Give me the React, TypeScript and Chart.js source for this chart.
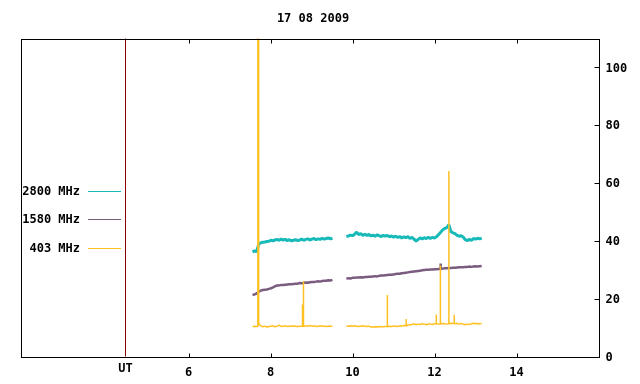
import React, { useEffect, useRef } from "react";
import { Chart, registerables } from "chart.js";

Chart.register(...registerables);

const TITLE = "17 08 2009";
const X_MIN = 1.9;
const X_MAX = 16;
const Y_MIN = 0;
const Y_MAX = 110;
const xTicks = [6, 8, 10, 12, 14];
const yTicks = [0, 20, 40, 60, 80, 100];
const utPosition = 4.46;
const utLabel = "UT";
const seriesLabels = ["2800 MHz", "1580 MHz", "403 MHz"];
const seriesColors = ["#17b9b9", "#7a5c7f", "#ffc020"];
const utColor = "#8b0000";

const STEP = 0.05;
const seg1Start = 7.56;
const seg2Start = 9.85;

const cyan1 = [
  36.2, 36.5, 36.3, 38.8, 39.3, 39.5, 39.6, 39.8, 39.9, 40.2,
  40.0, 40.3, 40.5, 40.2, 40.6, 40.3, 40.5, 40.1, 40.4, 40.0,
  40.2, 40.4, 40.1, 40.3, 40.6, 40.2, 40.5, 40.7, 40.3, 40.6,
  40.8, 40.4, 40.7, 40.5, 40.9, 40.6, 40.8, 41.0, 40.7, 40.9,
];
const cyan2 = [
  41.5, 41.7, 42.0, 41.8, 42.3, 43.0, 42.2, 42.5, 41.9, 42.3,
  41.9, 42.2, 41.7, 42.0, 41.6, 42.1, 41.8, 41.5, 41.9, 41.6,
  41.9, 41.4, 41.7, 41.3, 41.6, 41.2, 41.5, 41.0, 41.4, 41.1,
  41.5, 40.8, 41.2, 40.6, 39.9, 40.5, 41.0, 40.7, 41.1, 40.8,
  41.2, 40.9, 41.2, 41.0, 41.4, 42.2, 43.0, 43.8, 44.3, 44.6,
  45.6, 43.2, 42.8, 42.5, 41.9, 41.6, 41.8, 41.3, 40.4, 40.1,
  40.5, 40.2, 40.8, 40.6, 40.9, 40.7, 40.9,
];
const purple1 = [
  21.2, 21.5, 21.8, 22.4, 22.8, 23.0, 23.1, 23.2, 23.4, 23.6,
  23.9, 24.3, 24.6, 24.6, 24.7, 24.7, 24.8, 24.9, 25.0, 25.0,
  25.1, 25.2, 25.2, 25.4, 25.3, 25.5, 25.6, 25.5, 25.7, 25.8,
  25.8, 25.9, 26.0, 25.9, 26.1, 26.2, 26.2, 26.4, 26.3, 26.5,
];
const purple2 = [
  26.9, 27.1, 27.0, 27.2, 27.2, 27.3, 27.3, 27.4, 27.3, 27.5,
  27.5, 27.6, 27.6, 27.7, 27.8, 27.7, 27.9, 28.0, 28.0, 28.1,
  28.2, 28.3, 28.3, 28.4, 28.5, 28.6, 28.6, 28.8, 28.9, 29.0,
  29.1, 29.2, 29.3, 29.4, 29.5, 29.6, 29.7, 29.8, 29.9, 30.0,
  30.0, 30.1, 30.1, 30.2, 30.2, 30.3, 30.3, 30.4, 30.5, 30.5,
  30.6, 30.6, 30.7, 30.7, 30.8, 30.9, 30.9, 30.9, 31.0, 31.0,
  31.1, 31.0, 31.1, 31.2, 31.1, 31.2, 31.3,
];
const purpleSpikeTimes = [12.15];
const purpleSpikeValues = [32.2];
const yellow1 = [
  10.4, 10.5, 10.4, 11.5, 10.6, 10.3, 10.5, 10.2, 10.4, 10.5,
  10.6, 10.3, 10.5, 10.8, 10.4, 10.5, 10.6, 10.4, 10.5, 10.5,
  10.6, 10.5, 10.4, 10.5, 10.5, 10.4, 10.6, 10.5, 10.7, 10.5,
  10.6, 10.4, 10.5, 10.6, 10.5, 10.5, 10.4, 10.5, 10.5, 10.5,
];
const yellow2 = [
  10.5, 10.5, 10.6, 10.5, 10.6, 10.5, 10.4, 10.5, 10.6, 10.5,
  10.4, 10.5, 10.2, 10.2, 10.3, 10.2, 10.4, 10.3, 10.3, 10.4,
  10.4, 10.5, 10.4, 10.5, 10.5, 10.4, 10.6, 10.5, 10.7, 10.6,
  10.9, 11.0, 11.1, 11.3, 11.0, 11.2, 11.1, 11.3, 11.2, 11.0,
  11.3, 11.2, 11.1, 11.3, 11.3, 11.2, 11.3, 11.4, 11.3, 11.2,
  11.3, 11.5, 11.4, 11.3, 11.5, 11.2, 11.4, 11.2, 11.0, 11.2,
  11.1, 11.3, 11.5, 11.3, 11.4, 11.3, 11.4,
];
const yellowSpikeTimes = [7.69, 7.71, 8.78, 8.8, 10.85, 11.31, 12.04, 12.14, 12.35, 12.48];
const yellowSpikeValues = [130, 130, 18, 26, 21.3, 13, 14.5, 31.5, 64.2, 14.4];

type Pt = { x: number; y: number | null };

function segment(start: number, vals: number[]): Pt[] {
  return vals.map((v, i) => ({ x: +(start + i * STEP).toFixed(3), y: v }));
}

function series(a: number[], b: number[]): Pt[] {
  return [...segment(seg1Start, a), { x: (seg1Start + a.length * STEP + seg2Start) / 2, y: null }, ...segment(seg2Start, b)];
}

function withSpikes(pts: Pt[], times: number[], values: number[]): Pt[] {
  const out = pts.slice();
  times.forEach((t, k) => {
    let idx = out.findIndex((p) => p.x > t);
    if (idx < 0) idx = out.length;
    let base = 0;
    for (let j = idx - 1; j >= 0; j--) {
      if (out[j].y !== null) { base = out[j].y as number; break; }
    }
    out.splice(idx, 0, { x: t, y: base }, { x: t, y: values[k] }, { x: t, y: base });
  });
  return out;
}

const FONT = 'bold 12px "DejaVu Sans Mono", "Liberation Mono", monospace';

const gnuplotFrame = {
  id: "gnuplotFrame",
  beforeDatasetsDraw(chart: any) {
    const { ctx, chartArea } = chart;
    const xs = chart.scales.x;
    const ux = Math.round(xs.getPixelForValue(utPosition)) + 0.5;
    ctx.save();
    ctx.strokeStyle = utColor;
    ctx.lineWidth = 1;
    ctx.beginPath();
    ctx.moveTo(ux, chartArea.top);
    ctx.lineTo(ux, chartArea.bottom);
    ctx.stroke();
    ctx.restore();
  },
  afterDatasetsDraw(chart: any) {
    const { ctx, chartArea } = chart;
    const xs = chart.scales.x;
    const ys = chart.scales.y;
    const L = Math.round(chartArea.left) + 0.5;
    const R = Math.round(chartArea.right) + 0.5;
    const T = Math.round(chartArea.top) + 0.5;
    const B = Math.round(chartArea.bottom) + 0.5;
    ctx.save();
    ctx.strokeStyle = "#000";
    ctx.lineWidth = 1;
    ctx.strokeRect(L, T, R - L, B - T);
    ctx.beginPath();
    xTicks.forEach((v) => {
      const px = Math.round(xs.getPixelForValue(v)) + 0.5;
      ctx.moveTo(px, B);
      ctx.lineTo(px, B - 4);
      ctx.moveTo(px, T);
      ctx.lineTo(px, T + 4);
    });
    yTicks.forEach((v) => {
      const py = Math.round(ys.getPixelForValue(v)) + 0.5;
      ctx.moveTo(R, py);
      ctx.lineTo(R - 5, py);
    });
    ctx.stroke();

    ctx.fillStyle = "#000";
    ctx.font = FONT;
    ctx.textBaseline = "middle";
    ctx.textAlign = "center";
    xTicks.forEach((v) => {
      ctx.fillText(String(v), xs.getPixelForValue(v), B + 15.5);
    });
    ctx.fillText(utLabel, xs.getPixelForValue(utPosition), B + 11.5);
    ctx.textAlign = "left";
    yTicks.forEach((v) => {
      ctx.fillText(String(v), R + 6, ys.getPixelForValue(v) + 1);
    });
    ctx.textAlign = "center";
    ctx.fillText(TITLE, 313, 19);

    // legend
    const legendY = [192, 220, 249];
    seriesLabels.forEach((lab, i) => {
      ctx.fillStyle = "#000";
      ctx.textAlign = "right";
      ctx.fillText(lab, 80, legendY[i]);
      ctx.strokeStyle = seriesColors[i];
      ctx.lineWidth = 1;
      ctx.beginPath();
      ctx.moveTo(88, legendY[i] - 0.5);
      ctx.lineTo(121, legendY[i] - 0.5);
      ctx.stroke();
    });
    ctx.restore();
  },
};

export default function App() {
  const ref = useRef<HTMLCanvasElement | null>(null);
  useEffect(() => {
    if (!ref.current) return;
    const cyan = series(cyan1, cyan2);
    const purple = withSpikes(series(purple1, purple2), purpleSpikeTimes, purpleSpikeValues);
    const yellow = withSpikes(series(yellow1, yellow2), yellowSpikeTimes, yellowSpikeValues);
    const common = {
      pointRadius: 0,
      tension: 0,
      spanGaps: false,
      fill: false,
      clip: 0,
      borderJoinStyle: "bevel" as const,
    };
    const chart = new Chart(ref.current, {
      type: "line",
      data: {
        datasets: [
          { ...common, label: seriesLabels[2], data: yellow as any, borderColor: seriesColors[2], borderWidth: 1.5 },
          { ...common, label: seriesLabels[1], data: purple as any, borderColor: seriesColors[1], borderWidth: 2.5 },
          { ...common, label: seriesLabels[0], data: cyan as any, borderColor: seriesColors[0], borderWidth: 3 },
        ],
      },
      options: {
        animation: false,
        responsive: false,
        devicePixelRatio: 1,
        parsing: false as any,
        normalized: true,
        layout: { padding: { left: 20.5, right: 41.5, top: 38.5, bottom: 27.5 } },
        plugins: { legend: { display: false }, title: { display: false }, tooltip: { enabled: false } },
        scales: {
          x: { type: "linear", min: X_MIN, max: X_MAX, display: false },
          y: { type: "linear", min: Y_MIN, max: Y_MAX, display: false },
        },
      },
      plugins: [gnuplotFrame],
    });
    return () => chart.destroy();
  }, []);
  return (
    <div style={{ position: "absolute", left: 0, top: 0, width: 640, height: 384, background: "#fff" }}>
      <canvas ref={ref} width={640} height={384} style={{ display: "block" }} />
    </div>
  );
}
